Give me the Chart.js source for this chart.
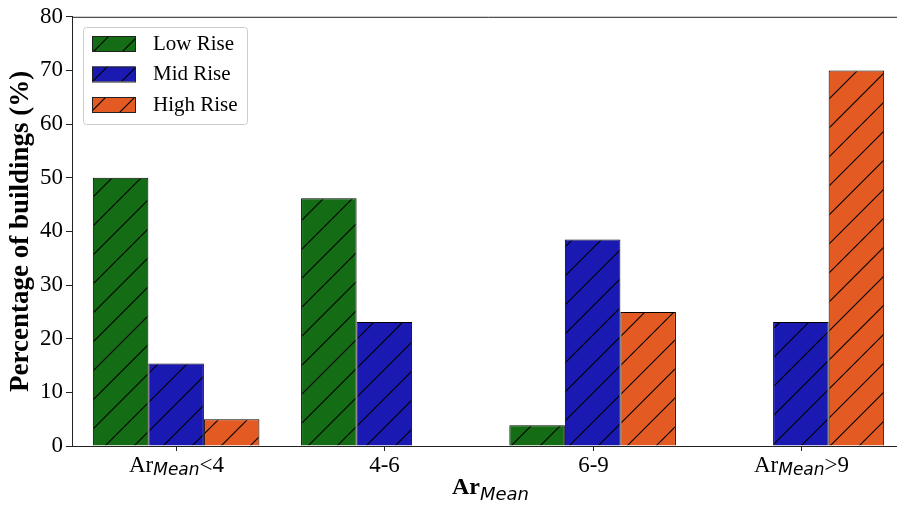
<!DOCTYPE html>
<html>
<head>
<meta charset="utf-8">
<script src="https://cdn.jsdelivr.net/npm/chart.js@4.4.0/dist/chart.umd.min.js"></script>
<style>
html, body { margin: 0; padding: 0; background: #fff; overflow: hidden; }
#wrap { width: 897px; height: 505px; overflow: hidden; }
#box { width: 905px; height: 505px; position: relative; }
</style>
</head>
<body>
<div id="wrap"><div id="box"><canvas id="myChart"></canvas></div></div>
<script>
var categories = ['Ar_Mean<4', '4-6', '6-9', 'Ar_Mean>9'];
var lowRise = [50, 46.2, 3.85, 0];
var midRise = [15.4, 23.1, 38.5, 23.1];
var highRise = [5, 0, 25, 70];
var yTicks = [0, 10, 20, 30, 40, 50, 60, 70, 80];

var serif = '"Liberation Serif", "Times New Roman", serif';
var subFont = '"DejaVu Sans", sans-serif';

function hatch(color) {
    var s = 29;
    var c = document.createElement('canvas');
    c.width = s; c.height = s;
    var g = c.getContext('2d');
    g.fillStyle = color;
    g.fillRect(0, 0, s, s);
    g.strokeStyle = '#000';
    g.lineWidth = 1.1;
    g.beginPath();
    g.moveTo(0, s); g.lineTo(s, 0);
    g.moveTo(-2, 2); g.lineTo(2, -2);
    g.moveTo(s - 2, s + 2); g.lineTo(s + 2, s - 2);
    g.stroke();
    return g.createPattern(c, 'repeat');
}

// draws "Ar_Mean..." style label centred at x
function mathLabel(ctx, label, x, y, size, subSize, subDy, bold) {
    var parts = [];
    if (label.indexOf('Ar_Mean') === 0) {
        parts.push({t: 'Ar', f: (bold ? 'bold ' : '') + size + 'px ' + serif, dy: 0});
        parts.push({t: 'Mean', f: 'italic ' + subSize + 'px ' + subFont, dy: subDy});
        if (label.length > 7) parts.push({t: label.slice(7), f: size + 'px ' + serif, dy: 0});
    } else {
        parts.push({t: label, f: size + 'px ' + serif, dy: 0});
    }
    var total = 0;
    parts.forEach(function (p) { ctx.font = p.f; p.w = ctx.measureText(p.t).width; total += p.w; });
    var cx = x - total / 2;
    ctx.textAlign = 'left';
    ctx.textBaseline = 'alphabetic';
    ctx.fillStyle = '#000';
    parts.forEach(function (p) { ctx.font = p.f; ctx.fillText(p.t, cx, y + p.dy); cx += p.w; });
}

var extras = {
    id: 'extras',
    afterDraw: function (chart) {
        var ctx = chart.ctx, a = chart.chartArea, xs = chart.scales.x;
        ctx.save();
        // top spine and right spine
        ctx.strokeStyle = '#222';
        ctx.lineWidth = 1;
        ctx.beginPath();
        ctx.moveTo(a.left, a.top + 0.5); ctx.lineTo(a.right, a.top + 0.5);
        ctx.lineTo(a.right, a.bottom);
        ctx.stroke();
        // x ticks and labels
        categories.forEach(function (lab, i) {
            var x = Math.round(xs.getPixelForValue(i)) + 0.5;
            ctx.beginPath();
            ctx.moveTo(x, a.bottom); ctx.lineTo(x, a.bottom + 5);
            ctx.stroke();
            mathLabel(ctx, lab, x, 472, 23, 17, 3, false);
        });
        // x title
        mathLabel(ctx, 'Ar_Mean', (a.left + a.right) / 2 + 2, 494, 24, 18, 6, true);
        // legend
        var lx = 83, ly = 27, lw = 164, lh = 97;
        ctx.fillStyle = 'rgba(255,255,255,0.85)';
        ctx.strokeStyle = '#cccccc';
        ctx.beginPath();
        ctx.roundRect(lx + 0.5, ly + 0.5, lw, lh, 3);
        ctx.fill(); ctx.stroke();
        chart.data.datasets.forEach(function (ds, i) {
            var y = 36 + i * 30.5;
            ctx.fillStyle = ds.backgroundColor;
            ctx.fillRect(92, y, 43, 15);
            ctx.strokeStyle = '#222';
            ctx.strokeRect(92.5, y + 0.5, 43, 15);
            ctx.fillStyle = '#000';
            ctx.font = '21px ' + serif;
            ctx.textBaseline = 'middle';
            ctx.textAlign = 'left';
            ctx.fillText(ds.label, 153, y + 8);
        });
        ctx.restore();
    }
};

var ctx = document.getElementById('myChart').getContext('2d');

var myChart = new Chart(ctx, {
    type: 'bar',
    data: {
        labels: categories,
        datasets: [{
            label: 'Low Rise',
            data: lowRise,
            backgroundColor: hatch('#146c14'),
            borderColor: '#000',
            borderWidth: 1
        }, {
            label: 'Mid Rise',
            data: midRise,
            backgroundColor: hatch('#1a1ab2'),
            borderColor: '#000',
            borderWidth: 1
        }, {
            label: 'High Rise',
            data: highRise,
            backgroundColor: hatch('#e35a22'),
            borderColor: '#000',
            borderWidth: 1
        }]
    },
    plugins: [extras],
    options: {
        responsive: true,
        maintainAspectRatio: false,
        animation: false,
        layout: { padding: { top: 16, right: 0, left: 0, bottom: 0 } },
        datasets: { bar: { categoryPercentage: 0.8, barPercentage: 1.0 } },
        plugins: {
            legend: { display: false },
            tooltip: { enabled: false }
        },
        scales: {
            x: {
                offset: true,
                grid: { display: false },
                border: { display: true, color: '#222', width: 1 },
                ticks: { display: false },
                afterFit: function (s) { s.height = 59; }
            },
            y: {
                min: 0,
                max: 80,
                afterBuildTicks: function (s) { s.ticks = yTicks.map(function (v) { return {value: v}; }); },
                grid: { drawOnChartArea: false, drawTicks: true, tickLength: 6, color: '#222' },
                border: { display: true, color: '#222', width: 1 },
                ticks: { color: '#000', padding: 3, font: { family: serif, size: 23 } },
                title: {
                    display: true,
                    text: 'Percentage of buildings (%)',
                    color: '#000',
                    font: { family: serif, size: 27, weight: 'bold' },
                    padding: { top: 5, bottom: 0 }
                },
                afterFit: function (s) { s.width = 72; }
            }
        }
    }
});
</script>
</body>
</html>
